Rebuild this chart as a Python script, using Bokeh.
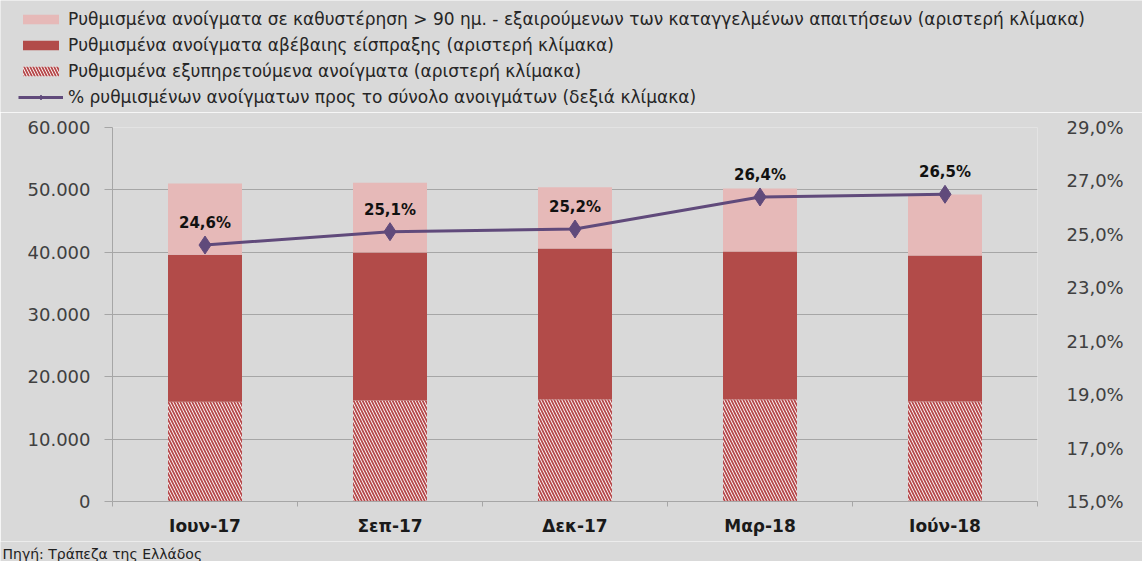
from bokeh.plotting import figure
from bokeh.layouts import column
from bokeh.models import (ColumnDataSource, Range1d, LinearAxis, FixedTicker, Legend,
                          LegendItem, LabelSet, Label)
from bokeh.embed import file_html
from bokeh.resources import INLINE
from bokeh.core.properties import value

categories = ["Ιουν-17", "Σεπ-17", "Δεκ-17", "Μαρ-18", "Ιούν-18"]
performing = [16000, 16200, 16350, 16350, 16050]
uncertain = [23600, 23750, 24250, 23750, 23400]
overdue = [11400, 11200, 9800, 10100, 9800]
pct = [24.6, 25.1, 25.2, 26.4, 26.5]
left_ticks = [0, 10000, 20000, 30000, 40000, 50000, 60000]
right_ticks = [15, 17, 19, 21, 23, 25, 27, 29]
series_names = [
    "Ρυθμισμένα ανοίγματα σε καθυστέρηση > 90 ημ. - εξαιρούμενων των καταγγελμένων απαιτήσεων (αριστερή κλίμακα)",
    "Ρυθμισμένα ανοίγματα αβέβαιης είσπραξης (αριστερή κλίμακα)",
    "Ρυθμισμένα εξυπηρετούμενα ανοίγματα (αριστερή κλίμακα)",
    "% ρυθμισμένων ανοίγματων προς το σύνολο ανοιγμάτων (δεξιά κλίμακα)",
]
source_note = "Πηγή: Τράπεζα της Ελλάδος"

FONT = "DejaVu Sans"
BG = "#d9d9d9"
GRID = "#a6a6a6"
TXT = "#404040"
C_TOP = "#e6b9b8"
C_MID = "#b24b49"
C_HATCH = "#b5484a"
C_LINE = "#604a7b"
W = 1142

x = list(range(1, len(categories) + 1))
pct_labels = [f"{v:.1f}".replace(".", ",") + "%" for v in pct]
src = ColumnDataSource(dict(x=x, performing=performing, uncertain=uncertain,
                            overdue=overdue, pct=pct, pct_label=pct_labels))

bar_style = dict(fill_color=["white", C_MID, C_TOP], line_color=None,
                 hatch_pattern=["left_diagonal_line", "blank", "blank"],
                 hatch_color=C_HATCH, hatch_scale=6, hatch_weight=1.8)

# ---------- main chart ----------
p = figure(width=W, height=429, output_backend="svg", toolbar_location=None,
           x_range=Range1d(0.5, len(categories) + 0.5), y_range=Range1d(0, 60000),
           min_border_left=112, min_border_right=105, min_border_top=15,
           min_border_bottom=40, background_fill_color=BG, border_fill_color=BG,
           outline_line_color=None)
p.extra_y_ranges = {"pct": Range1d(15, 29)}

bars = p.vbar_stack(["performing", "uncertain", "overdue"], x="x", width=0.4, source=src,
                    **bar_style)

ln = p.line("x", "pct", source=src, y_range_name="pct", line_color=C_LINE, line_width=3)
pts = p.scatter("x", "pct", source=src, y_range_name="pct", marker="diamond", size=18,
                fill_color=C_LINE, line_color=C_LINE)

labels = LabelSet(x="x", y="pct", text="pct_label", source=src, y_range_name="pct",
                  y_offset=22, text_align="center", text_baseline="middle",
                  text_font=value(FONT), text_font_style="bold", text_font_size="15px",
                  text_color="#111111")
p.add_layout(labels)

p.yaxis.ticker = FixedTicker(ticks=left_ticks)
p.yaxis.major_label_overrides = {t: f"{t:,}".replace(",", ".") for t in left_ticks}
p.yaxis.axis_line_color = GRID
p.yaxis.major_tick_line_color = GRID
p.yaxis.major_tick_out = 8
p.yaxis.major_tick_in = 0
p.yaxis.minor_tick_line_color = None
p.yaxis.major_label_standoff = 14
p.yaxis.major_label_text_font = FONT
p.yaxis.major_label_text_font_size = "18px"
p.yaxis.major_label_text_color = TXT

p.xaxis.ticker = FixedTicker(ticks=x, minor_ticks=[i + 0.5 for i in range(len(categories) + 1)])
p.xaxis.major_label_overrides = {i: c for i, c in zip(x, categories)}
p.xaxis.axis_line_color = GRID
p.xaxis.major_tick_line_color = None
p.xaxis.minor_tick_line_color = GRID
p.xaxis.minor_tick_out = 5
p.xaxis.minor_tick_in = 0
p.xaxis.major_label_standoff = 8
p.xaxis.major_label_text_font = FONT
p.xaxis.major_label_text_font_style = "bold"
p.xaxis.major_label_text_font_size = "17px"
p.xaxis.major_label_text_color = "#1a1a1a"

ra = LinearAxis(y_range_name="pct", ticker=FixedTicker(ticks=right_ticks))
ra.major_label_overrides = {t: f"{t:.1f}".replace(".", ",") + "%" for t in right_ticks}
ra.axis_line_color = None
ra.major_tick_line_color = None
ra.minor_tick_line_color = None
ra.major_label_standoff = 23
ra.major_label_text_font = FONT
ra.major_label_text_font_size = "18px"
ra.major_label_text_color = TXT
p.add_layout(ra, "right")

p.ygrid.ticker = FixedTicker(ticks=left_ticks)
p.ygrid.grid_line_color = GRID
p.xgrid.visible = False

# ---------- legend strip ----------
lg = figure(width=W, height=112, output_backend="svg", toolbar_location=None,
            x_range=Range1d(0, 1), y_range=Range1d(0, 1), x_axis_type=None,
            y_axis_type=None, min_border=0, min_border_left=0, min_border_right=0,
            min_border_top=0, min_border_bottom=0, background_fill_color=BG,
            border_fill_color=BG, outline_line_color=None)
lg.grid.visible = False
lbars = lg.vbar_stack(["performing", "uncertain", "overdue"], x="x", width=0.4,
                      source=src, visible=False, **bar_style)
lln = lg.line("x", "pct", source=src, line_color=C_LINE, line_width=3, visible=False)
lpts = lg.scatter("x", "pct", source=src, marker="diamond", size=14,
                  fill_color=C_LINE, line_color=C_LINE, visible=False)
legend = Legend(items=[
    LegendItem(label=series_names[0], renderers=[lbars[2]]),
    LegendItem(label=series_names[1], renderers=[lbars[1]]),
    LegendItem(label=series_names[2], renderers=[lbars[0]]),
    LegendItem(label=series_names[3], renderers=[lln, lpts]),
], location=(18, 5), orientation="vertical", background_fill_alpha=0,
    border_line_color=None, label_text_font=FONT, label_text_font_size="17px",
    label_text_color="#262626", glyph_width=45, glyph_height=12, label_height=20,
    spacing=6, padding=0, margin=0, label_standoff=5, inactive_fill_alpha=0)
lg.add_layout(legend, "center")

# ---------- source note strip ----------
nt = figure(width=W, height=20, output_backend="svg", toolbar_location=None,
            x_range=Range1d(0, 1), y_range=Range1d(0, 1), x_axis_type=None,
            y_axis_type=None, min_border=0, min_border_left=0, min_border_right=0,
            min_border_top=0, min_border_bottom=0, background_fill_color=BG,
            border_fill_color=BG, outline_line_color=None)
nt.grid.visible = False
nt.add_layout(Label(x=2, y=0, x_units="screen", y_units="screen", text=source_note,
                    text_font=FONT, text_font_size="14px", text_color="#222222",
                    text_baseline="bottom"))

layout = column(column(lg), column(p), column(nt), spacing=0)
open("out.html", "w").write(file_html(layout, INLINE))
